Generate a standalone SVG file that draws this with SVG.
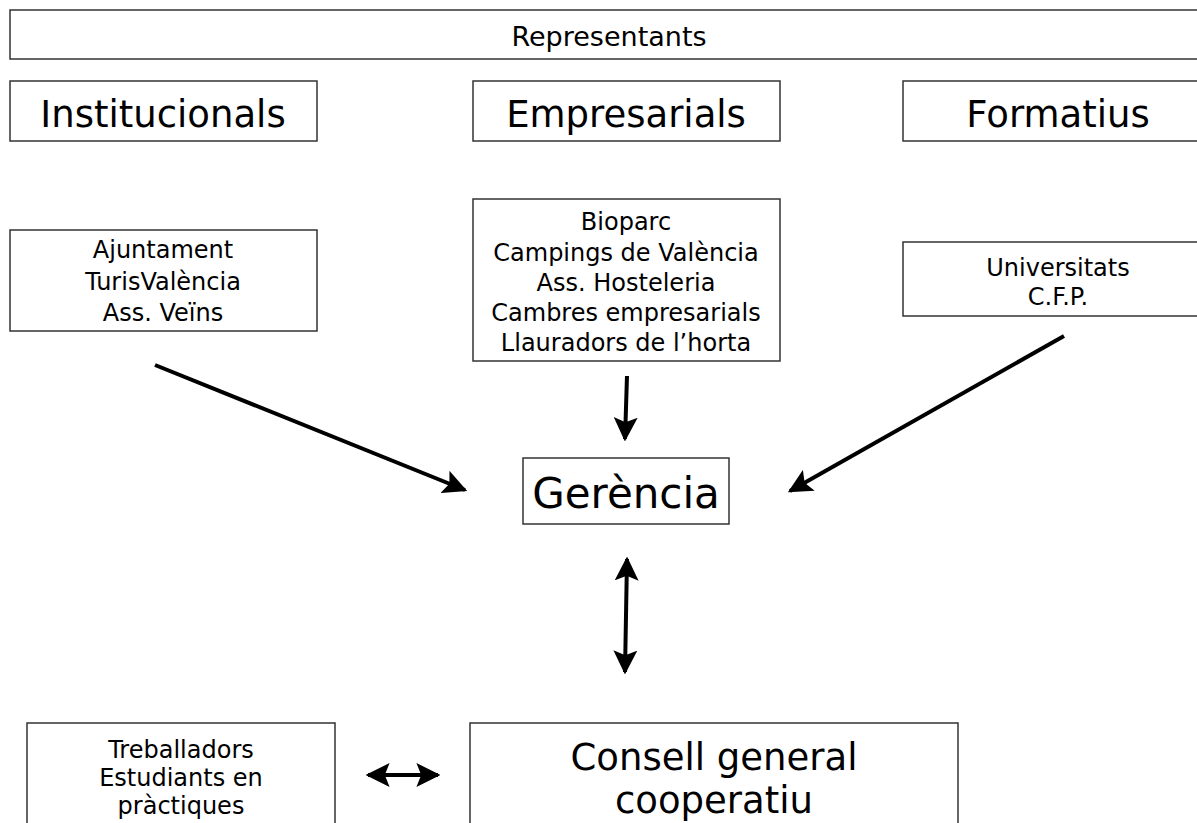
<svg xmlns="http://www.w3.org/2000/svg" width="1197" height="823" viewBox="0 0 1197 823">
<style>
.box{fill:#fff;stroke:#333;stroke-width:1.5}
text{font-family:"DejaVu Sans",Verdana,sans-serif;fill:#000;text-anchor:middle}
.t27{font-size:27px}
.t36{font-size:37px}
.t24{font-size:24px}
.t42{font-size:42px}
.conn{stroke:#000;stroke-width:4;fill:none}
</style>
<defs>
<marker id="ah" viewBox="0 0 10 10" refX="9" refY="5" markerWidth="6" markerHeight="6" orient="auto-start-reverse" markerUnits="strokeWidth">
<path d="M0,0 L10,5 L0,10 L2,5 Z" fill="#000"/>
</marker>
</defs>
<rect width="1197" height="823" fill="#fff"/>
<g id="representants"><rect class="box" x="10" y="10" width="1200" height="49"/><text class="t27" x="609" y="46">Representants</text></g>
<g id="institucionals"><rect class="box" x="10" y="81" width="307" height="60"/><text class="t36" x="163" y="127">Institucionals</text></g>
<g id="empresarials"><rect class="box" x="473" y="81" width="307" height="60"/><text class="t36" x="626" y="127">Empresarials</text></g>
<g id="formatius"><rect class="box" x="903" y="81" width="310" height="60"/><text class="t36" x="1058" y="127">Formatius</text></g>
<g id="inst-list"><rect class="box" x="10" y="230" width="307" height="101"/><text class="t24"><tspan x="163" y="258">Ajuntament</tspan><tspan x="163" y="290">TurisValència</tspan><tspan x="163" y="321">Ass. Veïns</tspan></text></g>
<g id="emp-list"><rect class="box" x="473" y="199" width="307" height="162"/><text class="t24"><tspan x="626" y="230">Bioparc</tspan><tspan x="626" y="261">Campings de València</tspan><tspan x="626" y="291">Ass. Hosteleria</tspan><tspan x="626" y="321">Cambres empresarials</tspan><tspan x="626" y="351">Llauradors de l’horta</tspan></text></g>
<g id="form-list"><rect class="box" x="903" y="242" width="310" height="74"/><text class="t24"><tspan x="1058" y="276">Universitats</tspan><tspan x="1058" y="305">C.F.P.</tspan></text></g>
<g id="gerencia"><rect class="box" x="523" y="458" width="206" height="66"/><text class="t42" x="626" y="508">Gerència</text></g>
<g id="treballadors"><rect class="box" x="27" y="723" width="308" height="110"/><text class="t24"><tspan x="181" y="758">Treballadors</tspan><tspan x="181" y="786">Estudiants en</tspan><tspan x="181" y="814">pràctiques</tspan></text></g>
<g id="consell"><rect class="box" x="470" y="723" width="488" height="110"/><text class="t36"><tspan x="714" y="770">Consell general</tspan><tspan x="714" y="813">cooperatiu</tspan></text></g>
<g id="connectors">
<line class="conn" x1="155" y1="365" x2="465" y2="490" marker-end="url(#ah)"/>
<line class="conn" x1="1064" y1="336" x2="790" y2="491" marker-end="url(#ah)"/>
<line class="conn" x1="627" y1="376" x2="625" y2="439" marker-end="url(#ah)"/>
<line class="conn" x1="627" y1="559" x2="625" y2="672" marker-start="url(#ah)" marker-end="url(#ah)"/>
<line class="conn" x1="368" y1="775" x2="438" y2="775" marker-start="url(#ah)" marker-end="url(#ah)"/>
</g>
</svg>
